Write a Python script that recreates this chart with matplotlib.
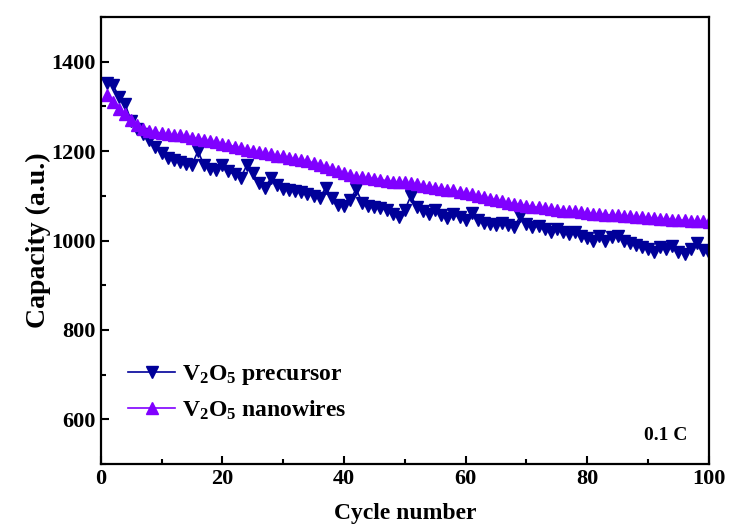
import numpy as np
import matplotlib
matplotlib.use('Agg')
from matplotlib import pyplot as plt
from matplotlib.ticker import MultipleLocator

plt.rcParams['font.family'] = 'Liberation Serif'
plt.rcParams['font.weight'] = 'bold'
plt.rcParams['mathtext.fontset'] = 'custom'
plt.rcParams['mathtext.rm'] = 'Liberation Serif:bold'
plt.rcParams['mathtext.it'] = 'Liberation Serif:bold'
plt.rcParams['mathtext.bf'] = 'Liberation Serif:bold'

#cycle 1..100
cycles = np.arange(1, 101)

precursor = [1352, 1348, 1322, 1305, 1268, 1250, 1238, 1225, 1210, 1195,
             1185, 1180, 1175, 1172, 1170, 1200, 1168, 1160, 1158, 1168,
             1155, 1148, 1140, 1168, 1150, 1128, 1118, 1140, 1125, 1115,
             1112, 1110, 1108, 1105, 1100, 1095, 1118, 1095, 1080, 1078,
             1090, 1115, 1085, 1078, 1075, 1072, 1068, 1060, 1052, 1068,
             1100, 1075, 1065, 1060, 1068, 1058, 1050, 1060, 1052, 1045,
             1062, 1045, 1040, 1038, 1035, 1040, 1035, 1030, 1055, 1038,
             1030, 1032, 1025, 1020, 1025, 1018, 1015, 1020, 1010, 1005,
             1000, 1010, 1000, 1008, 1010, 1000, 995, 990, 985, 982,
             975, 985, 980, 988, 975, 970, 980, 995, 978, 972]

nanowires = [1325, 1310, 1295, 1282, 1270, 1258, 1250, 1245, 1242, 1240,
             1238, 1236, 1235, 1233, 1230, 1228, 1225, 1222, 1220, 1217,
             1214, 1210, 1207, 1203, 1200, 1198, 1195, 1193, 1190, 1188,
             1185, 1182, 1180, 1177, 1174, 1170, 1165, 1160, 1155, 1150,
             1146, 1143, 1141, 1140, 1138, 1136, 1134, 1132, 1131, 1130,
             1128, 1126, 1123, 1120, 1118, 1116, 1114, 1112, 1109, 1106,
             1103, 1100, 1097, 1094, 1091, 1088, 1085, 1082, 1080, 1078,
             1076, 1074, 1072, 1070, 1069, 1067, 1066, 1065, 1063, 1062,
             1060, 1059, 1058, 1057, 1056, 1055, 1054, 1053, 1052, 1051,
             1050, 1049, 1048, 1047, 1046, 1045, 1044, 1043, 1043, 1042]

labels = [r'V$_2$O$_5$ precursor', r'V$_2$O$_5$ nanowires']

fig = plt.figure(figsize=(7.3, 5.24), dpi=100)
ax = fig.add_axes([0.138, 0.1145, 0.833, 0.853])

ax.plot(cycles, precursor, color='#000099', marker='v', markersize=8,
        linewidth=1.2, label=labels[0])
ax.plot(cycles, nanowires, color='#8000ff', marker='^', markersize=8,
        linewidth=1.2, label=labels[1])

ax.set_xlim(0, 100)
ax.set_ylim(500, 1500)
ax.xaxis.set_major_locator(MultipleLocator(20))
ax.xaxis.set_minor_locator(MultipleLocator(10))
ax.yaxis.set_major_locator(MultipleLocator(200))
ax.yaxis.set_minor_locator(MultipleLocator(100))
ax.set_yticks([600, 800, 1000, 1200, 1400])

for s in ax.spines.values():
    s.set_linewidth(1.6)
ax.tick_params(which='both', direction='in', width=1.5, labelsize=16)
ax.tick_params(which='major', length=6)
ax.tick_params(which='minor', length=3.5)

ax.set_xlabel('Cycle number', fontsize=17, fontweight='bold', labelpad=10)
ax.set_ylabel('Capacity (a.u.)', fontsize=20, fontweight='bold', labelpad=0)

ax.legend(loc='center left', bbox_to_anchor=(0.01, 0.16), frameon=False,
          fontsize=17, handlelength=2.0, handletextpad=0.3, labelspacing=0.5)
ax.text(0.965, 0.045, '0.1 C', transform=ax.transAxes, ha='right', va='bottom',
        fontsize=14, fontweight='bold')

plt.savefig('out.png', dpi=100)
